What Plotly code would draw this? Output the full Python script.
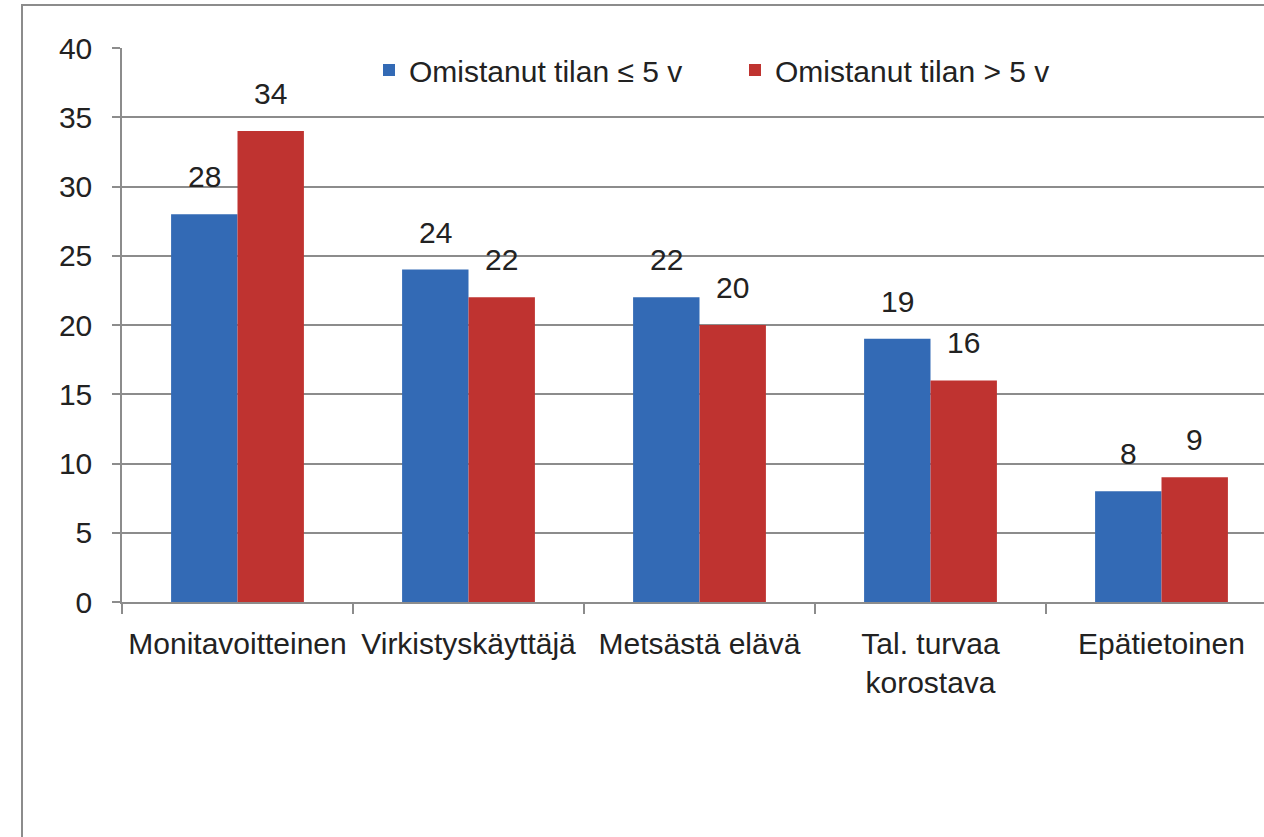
import plotly.graph_objects as go

categories = ["Monitavoitteinen", "Virkistyskäyttäjä", "Metsästä elävä", "Tal. turvaa<br>korostava", "Epätietoinen"]
series_names = ["Omistanut tilan ≤ 5 v", "Omistanut tilan > 5 v"]
values_short = [28, 24, 22, 19, 8]
values_long = [34, 22, 20, 16, 9]
y_ticks = [0, 5, 10, 15, 20, 25, 30, 35, 40]

colors = ["#336ab5", "#bf3330"]
FONT = "Liberation Sans"
TXT = "#222222"
FS = 30

fig = go.Figure()
for name, vals, col in zip(series_names, [values_short, values_long], colors):
    fig.add_trace(go.Bar(x=categories, y=vals, name=name, marker=dict(color=col, line=dict(width=0))))

# data labels
for vals, shift in zip([values_short, values_long], [-33, 33]):
    for c, v in zip(categories, vals):
        fig.add_annotation(x=c, y=v, text=str(v), showarrow=False, xshift=shift, yshift=19,
                           yanchor="bottom", font=dict(family=FONT, size=FS, color=TXT))

W, H = 1264, 837
L, R, T, B = 122, 0, 48, 235
pw, ph = W - L - R, H - T - B
def px_x(p): return (p - L) / pw
def px_y(p): return (H - B - p) / ph

# outer chart frame
fig.add_shape(type="rect", xref="paper", yref="paper",
              x0=px_x(22), x1=px_x(1300), y0=px_y(900), y1=px_y(5),
              line=dict(color="#8c8c8c", width=2), fillcolor="rgba(0,0,0,0)", layer="below")

fig.update_layout(
    width=W, height=H,
    margin=dict(l=L, r=R, t=T, b=B, pad=0),
    paper_bgcolor="white", plot_bgcolor="white",
    barmode="group", bargap=0.425, bargroupgap=0,
    font=dict(family=FONT, size=FS, color=TXT),
    legend=dict(orientation="h", x=px_x(369), y=px_y(44), xanchor="left", yanchor="top",
                font=dict(family=FONT, size=FS, color=TXT), bgcolor="rgba(0,0,0,0)",
                itemwidth=30, tracegroupgap=0, entrywidth=321),
    showlegend=True,
)
fig.update_xaxes(range=[-0.5, -0.5 + pw / 231.0], showgrid=False, showline=True, linecolor="#8c8c8c", linewidth=1.5,
                 ticks="outside", tickson="boundaries", ticklen=10, tickcolor="#8c8c8c", tickwidth=1.5,
                 ticklabelstandoff=14,
                 tickfont=dict(family=FONT, size=FS, color=TXT), fixedrange=True)
fig.update_yaxes(range=[0, 40], tickvals=y_ticks, showgrid=True, gridcolor="#8c8c8c", gridwidth=1.5,
                 showline=True, linecolor="#8c8c8c", linewidth=1.5, zeroline=False,
                 ticks="outside", ticklen=8, tickcolor="#8c8c8c", tickwidth=1.5,
                 ticklabelstandoff=14,
                 tickfont=dict(family=FONT, size=FS, color=TXT), fixedrange=True)

fig.write_html("out.html", config={"displayModeBar": False},
               post_script="document.body.style.margin='0';document.body.style.overflow='hidden';")
